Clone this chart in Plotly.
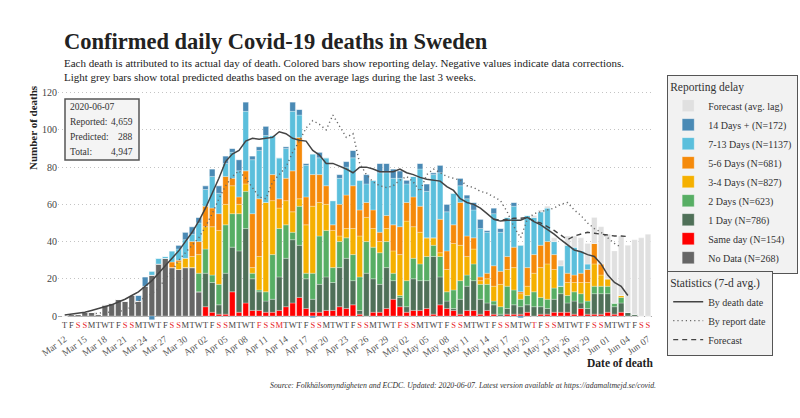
import plotly.graph_objects as go
import pandas as pd

# ---------------- data ----------------
dates = pd.date_range("2020-03-12", "2020-06-07").strftime("%Y-%m-%d").tolist()
holidays = ["2020-04-10", "2020-04-13", "2020-05-01", "2020-05-21", "2020-06-06"]

no_data = [0, 1, 1, 2, 2, 1, 6, 7, 9, 8, 11, 8, 16, 22, 28, 31, 26, 25, 26, 26, 13] + [0] * 67

same_day = [0] * 21 + [
    5, 2, 1, 1, 13, 2, 7, 3, 3, 2,
    2, 3, 5, 7, 10, 4, 2, 2, 3, 3,
    5, 4, 6, 1, 0, 2, 2, 4, 9, 5,
    2, 3, 3, 4, 1, 6, 4, 3, 1, 3,
    3, 1, 3, 1, 0, 1, 1, 1, 2, 0,
    1, 1, 2, 2, 2, 1, 4, 1, 1, 1,
    2, 1, 2, 0, 0, 0, 0]

day1 = [0] * 21 + [
    18, 16, 5, 22, 24, 33, 40, 17, 10, 6,
    7, 18, 26, 34, 28, 16, 7, 15, 18, 15,
    21, 27, 13, 2, 23, 18, 15, 22, 10, 5,
    3, 17, 16, 15, 31, 15, 4, 1, 8, 13,
    16, 8, 4, 5, 1, 3, 5, 4, 4, 5,
    4, 3, 7, 10, 5, 7, 3, 3, 11, 11,
    10, 4, 5, 2, 1, 0, 0]

day2 = [0] * 20 + [10] + [
    13, 4, 11, 26, 18, 20, 20, 3, 1, 5,
    24, 26, 18, 4, 21, 3, 14, 26, 25, 8,
    14, 11, 14, 18, 17, 17, 17, 14, 4, 1,
    14, 11, 9, 13, 6, 11, 5, 10, 10, 6,
    9, 8, 10, 2, 4, 12, 8, 4, 5, 8,
    5, 5, 6, 4, 4, 5, 5, 4, 4, 4,
    4, 2, 3, 0, 0, 0, 0]

day3_4 = [0] * 17 + [4, 5, 6, 10] + [
    12, 26, 29, 11, 15, 5, 4, 3, 18, 48,
    29, 11, 13, 11, 4, 26, 36, 18, 14, 20,
    3, 5, 14, 22, 13, 10, 6, 7, 12, 22,
    32, 17, 17, 10, 4, 2, 12, 25, 19, 10,
    8, 2, 3, 8, 12, 9, 12, 3, 5, 10,
    16, 19, 10, 0, 7, 5, 6, 10, 12, 6,
    4, 0, 1, 0, 0, 0, 0]

day5_6 = [0] * 16 + [3, 1, 0, 8, 7] + [
    11, 10, 9, 15, 4, 4, 7, 29, 31, 0,
    14, 5, 12, 22, 33, 15, 17, 15, 10, 3,
    17, 18, 23, 14, 8, 10, 5, 7, 14, 15,
    10, 16, 14, 0, 0, 18, 10, 10, 23, 11,
    6, 2, 3, 11, 7, 7, 11, 1, 10, 10,
    12, 12, 8, 0, 5, 4, 5, 7, 11, 6,
    0, 0, 0, 0, 0, 0, 0]

day7_13 = [0] * 13 + [2, 3, 1, 6, 6, 10, 4, 10] + [
    9, 17, 11, 7, 14, 14, 32, 29, 26, 36,
    21, 22, 16, 32, 12, 17, 11, 9, 15, 13,
    14, 15, 15, 16, 10, 16, 32, 23, 25, 26,
    10, 11, 20, 25, 34, 25, 21, 17, 9, 20,
    15, 26, 22, 28, 21, 21, 22, 25, 28, 20,
    18, 18, 7, 11, 15, 15, 12, 3, 0, 0,
    0, 0, 0, 0, 0, 0, 0]

day14 = [0] * 11 + [3, 5, -2, 0, 0, 0, 2, 4, 4, 3] + [
    2, 4, 4, 4, 2, 6, 5, 2, 2, 5,
    0, 0, 1, 5, 3, 1, -1, 3, 0, 0,
    2, 3, 4, 0, 5, 0, 5, 5, 5, 4,
    2, 0, 3, 4, 1, 4, 4, 0, 4, 2,
    4, 5, 1, 3, 2, 0, 2, -1, 0, 0,
    0, 0, 0, 0, 0, 0, 0, 0, 0, 0,
    0, 0, 0, 0, 0, 0, 0]

forecast = [0] * 70 + [1, 1, 1, 2, 3, 5, 6, 7, 11, 14, 20, 24, 28, 32, 36, 40, 42, 44]

avg_death_date = [
    0.5, 1, 1.5, 2, 3, 4, 5, 6, 7.5, 9,
    11, 13, 16, 19, 23, 27, 31, 35, 40, 45,
    51, 58, 66, 74, 83, 87, 89, 94, 95.5, 95,
    95.5, 96, 99, 98, 95.5, 94.5, 94, 89, 86.5, 82,
    82, 80.5, 79, 77, 80, 80, 79, 77.5, 77.5, 77.5,
    79, 77, 76, 74.5, 73.5, 73, 72.5, 69.5, 67.5, 63,
    61, 60, 58, 55, 52, 51, 51.5, 51.5, 51.5, 53,
    50.7, 49, 46.5, 44, 41, 38, 35.5, 34.5, 33, 32,
    28, 22, 18, 16, 11, None, None, None]

avg_report_date = [None] * 4 + [
    1, 1.5, 2, 2, 2.5, 3,
    5, 8, 10, 12, 15, 20, 24, 30, 34, 38,
    42, 48, 55, 63, 70, 75, 78, 74, 69, 64,
    63, 72, 76, 80, 88, 94, 101, 105, 103, 100,
    108, 102, 96, 98, 82, 76, 72, 70, 69, 70,
    73, 75, 72, 67, 76, 79, 77, 75, 74, 73,
    70, 69, 67, 66, 64, 62, 56, 48, 42, 52,
    55, 56, 57, 58, 60, 61, 57, 54, 50, 47,
    45, 42, 39, 37, None, None, None, None]

avg_forecast = [None] * 64 + [
    52, 51.5, 52, 52.5, 52.5, 53, 51, 50, 48, 46,
    43.5, 41, 43, 44, 45, 44.5, 44, 43.5, 43, 43, 42.7, None, None, None]

group_names = ["No Data", "Same day", "1 Day", "2 Days", "3-4 Days", "5-6 Days", "7-13 Days", "14 Days +"]
group_n = [268, 154, 786, 623, 827, 681, 1137, 172]
group_colors = ["#666666", "#ff0000", "#4f7058", "#57ae64", "#f5b000", "#f58a0a", "#5bbfdc", "#4a8ab5"]
group_values = [no_data, same_day, day1, day2, day3_4, day5_6, day7_13, day14]

report_date = "2020-06-07"
reported_total = 4659
predicted_total = 288

# ---------------- figure ----------------
FONT = "Liberation Serif"
W, H = 800, 418
ML, MR, MT, MB = 58, 148, 89, 10
PW, PH = W - ML - MR, H - MT - MB


def px(x):
    return (x - ML) / PW


def py(y):
    return (H - MB - y) / PH


fig = go.Figure()
bar_line = dict(width=0.5, color="rgba(255,255,255,0.55)")
for name, n, col, vals in zip(group_names, group_n, group_colors, group_values):
    fig.add_trace(go.Bar(x=dates, y=vals, name=f"{name} (N={n})", marker=dict(color=col, line=bar_line),
                         legend="legend"))
fig.add_trace(go.Bar(x=dates, y=forecast, name="Forecast (avg. lag)",
                     marker=dict(color="#e0e0e0", line=bar_line), legend="legend"))

fig.add_trace(go.Scatter(x=dates, y=avg_death_date, mode="lines", name="By death date",
                         line=dict(color="#444444", width=1.5), legend="legend2"))
fig.add_trace(go.Scatter(x=dates, y=avg_report_date, mode="lines", name="By report date",
                         line=dict(color="#666666", width=1.4, dash="1.2px,3px"), legend="legend2"))
fig.add_trace(go.Scatter(x=dates, y=avg_forecast, mode="lines", name="Forecast",
                         line=dict(color="#444444", width=1.4, dash="5px,4px"), legend="legend2"))
# dummy trace so the secondary (date label) axis is drawn
fig.add_trace(go.Scatter(x=[dates[0]], y=[None], xaxis="x2", showlegend=False, hoverinfo="skip"))

# day-letter tick labels
letters = []
for d in pd.to_datetime(dates):
    ch = "MTWTFSS"[d.weekday()]
    if d.weekday() >= 5 or d.strftime("%Y-%m-%d") in holidays:
        ch = f"<span style='color:#e8262a'>{ch}</span>"
    letters.append(ch)

label_dates = dates[::3]
label_text = [pd.Timestamp(d).strftime("%b %d") for d in label_dates]

ydom0 = py(320.65)
fig.update_layout(
    width=W, height=H,
    margin=dict(l=ML, r=MR, t=MT, b=MB, autoexpand=False),
    paper_bgcolor="white", plot_bgcolor="white",
    barmode="relative", bargap=0.18,
    font=dict(family=FONT, color="#333333"),
    xaxis=dict(range=["2020-03-11 00:00", "2020-06-07 14:24"], tickmode="array", tickvals=dates,
               ticktext=letters, tickangle=0, tickfont=dict(size=8.5, color="#444444"),
               showgrid=False, showline=False, zeroline=False, ticks="", anchor="y",
               ticklabelstandoff=-2),
    xaxis2=dict(overlaying="x", matches="x", anchor="free", position=py(331), side="bottom",
                tickmode="array", tickvals=label_dates, ticktext=label_text, tickangle=-35,
                tickfont=dict(size=9.5, color="#555555"), showgrid=False, showline=False,
                zeroline=False, ticks=""),
    yaxis=dict(range=[-2.5, 122], domain=[ydom0, 1], tickvals=[0, 20, 40, 60, 80, 100, 120],
               tickfont=dict(size=10, color="#444444"), showgrid=True, gridcolor="#c4c4c4",
               griddash="1px,3px", gridwidth=1, zeroline=True, zerolinecolor="#aaaaaa", zerolinewidth=1,
               showline=False, ticks=""),
    legend=dict(xref="container", yref="container", x=667 / W, y=1 - 75 / H, xanchor="left", yanchor="top",
                bgcolor="#f2f2f2", bordercolor="#555555", borderwidth=1.2, traceorder="reversed",
                title=dict(text="Reporting delay", font=dict(size=11.5, color="#333333")),
                font=dict(size=10, color="#333333"), itemwidth=30),
    legend2=dict(xref="container", yref="container", x=667 / W, y=1 - 271 / H, xanchor="left", yanchor="top",
                 bgcolor="#f2f2f2", bordercolor="#555555", borderwidth=1.2,
                 title=dict(text="Statistics (7-d avg.)", font=dict(size=11.5, color="#333333")),
                 font=dict(size=10, color="#333333"), itemwidth=30),
    showlegend=True,
)

annotations = [
    dict(text="<b>Confirmed daily Covid-19 deaths in Sweden</b>", x=px(62), y=py(41), xanchor="left",
         yanchor="middle", font=dict(size=22.5, color="#222222")),
    dict(text="Each death is attributed to its actual day of death. Colored bars show reporting delay. "
              "Negative values indicate data corrections.<br>Light grey bars show total predicted deaths "
              "based on the average lags during the last 3 weeks.",
         x=px(62), y=py(55), xanchor="left", yanchor="top", align="left", font=dict(size=11, color="#222222")),
    dict(text="<b>Number of deaths</b>", x=px(33), y=py(128), textangle=-90, xanchor="center",
         yanchor="middle", font=dict(size=11, color="#222222")),
    dict(text="<b>Date of death</b>", x=px(655), y=py(363), xanchor="right", yanchor="middle",
         font=dict(size=11.5, color="#222222")),
    dict(text="<i>Source: Folkhälsomyndigheten and ECDC. Updated: 2020-06-07. Latest version available at "
              "https://adamaltmejd.se/covid.</i>",
         x=px(658), y=py(385), xanchor="right", yanchor="middle", font=dict(size=7.8, color="#333333")),
    dict(text=report_date, x=px(68), y=py(107), xanchor="left", yanchor="middle", font=dict(size=9.5)),
    dict(text="Reported:", x=px(68), y=py(122), xanchor="left", yanchor="middle", font=dict(size=9.5)),
    dict(text="Predicted:", x=px(68), y=py(137), xanchor="left", yanchor="middle", font=dict(size=9.5)),
    dict(text="Total:", x=px(68), y=py(152), xanchor="left", yanchor="middle", font=dict(size=9.5)),
    dict(text=f"{reported_total:,}", x=px(135), y=py(122), xanchor="right", yanchor="middle", font=dict(size=9.5)),
    dict(text=f"{predicted_total:,}", x=px(135), y=py(137), xanchor="right", yanchor="middle", font=dict(size=9.5)),
    dict(text=f"{reported_total + predicted_total:,}", x=px(135), y=py(152), xanchor="right", yanchor="middle",
         font=dict(size=9.5)),
]
for a in annotations:
    a.update(xref="paper", yref="paper", showarrow=False)
fig.update_layout(annotations=annotations)

fig.add_shape(type="rect", xref="paper", yref="paper", x0=px(65), x1=px(139), y0=py(160), y1=py(99),
              line=dict(color="#555555", width=1.5), fillcolor="#f4f4f4", layer="above")
fig.write_html("out.html")
